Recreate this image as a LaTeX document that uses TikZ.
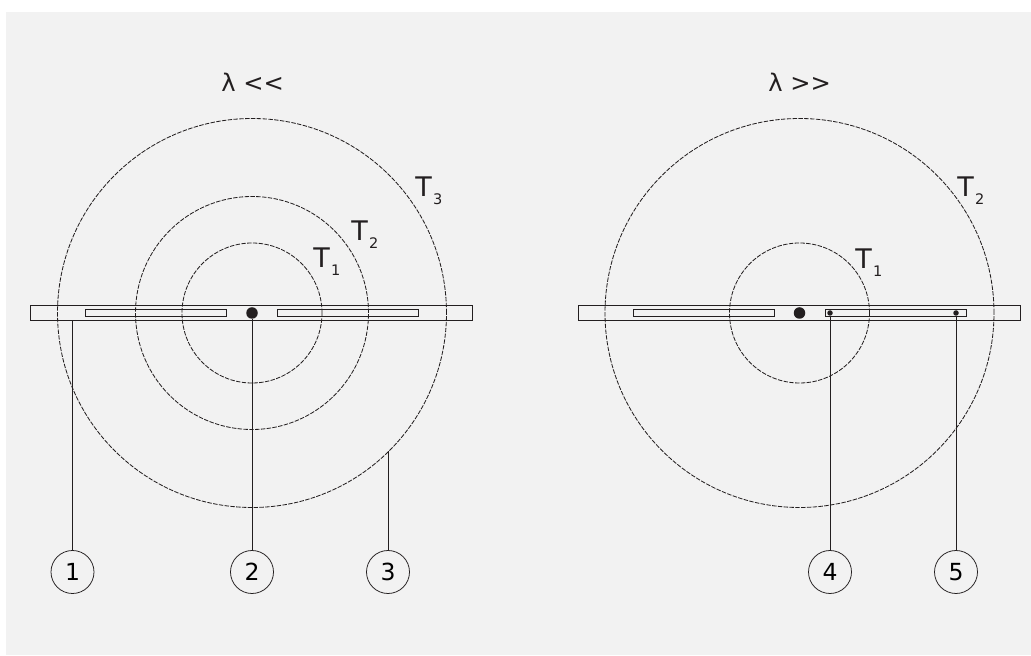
\documentclass[tikz,border=0pt]{standalone}
\usepackage{fontspec}
\setmainfont{DejaVu Sans}
\definecolor{panelgrey}{HTML}{F2F2F2}
\definecolor{inkdark}{HTML}{231F20}
\newcommand{\tsub}[1]{T\kern0.05em\raisebox{-0.28em}{\fontsize{10.5}{10.5}\selectfont #1}}
\tikzset{
  plate/.style={draw=inkdark, line width=0.68pt, inner sep=0pt, minimum width=4.42in, minimum height=0.15in},
  slot/.style={draw=inkdark, line width=0.68pt, inner sep=0pt, minimum width=1.41in, minimum height=0.065in},
  ring/.style={circle, draw=inkdark, line width=0.6pt, dash pattern=on 3.2pt off 1pt, inner sep=0pt},
  source/.style={circle, fill=inkdark, inner sep=0pt, minimum size=0.115in},
  tip/.style={circle, fill=inkdark, inner sep=0pt, minimum size=0.055in},
  callout/.style={circle, draw=inkdark, line width=0.55pt, inner sep=0pt, minimum size=0.43in, font=\fontsize{17}{17}\selectfont},
  lead/.style={draw=inkdark, line width=0.68pt},
  templabel/.style={inner sep=0pt, anchor=base west, font=\fontsize{19.5}{20}\selectfont, text=inkdark},
  title/.style={inner sep=0pt, anchor=base west, font=\fontsize{17.5}{18}\selectfont, text=inkdark}
}
\begin{document}
\begin{tikzpicture}[x=1in,y=1in]
\useasboundingbox (0,0) rectangle (10.31,6.55);
\fill[panelgrey] (0.06,0) rectangle (10.31,6.43);
% left plate
\node[plate] (plateL) at (2.515,3.425) {};
\node[slot] (slotLa) at (1.56,3.42) {};
\node[slot] (slotLb) at (3.48,3.42) {};
\node[source] (sourceL) at (2.52,3.42) {};
\node[ring, minimum size=1.40in] (ringLa) at (2.52,3.42) {};
\node[ring, minimum size=2.33in] (ringLb) at (2.52,3.42) {};
\node[ring, minimum size=3.89in] (ringLc) at (2.52,3.42) {};
% right plate
\node[plate] (plateR) at (7.995,3.425) {};
\node[slot] (slotRa) at (7.04,3.42) {};
\node[slot] (slotRb) at (8.955,3.42) {};
\node[source] (sourceR) at (7.995,3.42) {};
\node[tip] (tipa) at (8.30,3.42) {};
\node[tip] (tipb) at (9.56,3.42) {};
\node[ring, minimum size=1.40in] (ringRa) at (7.995,3.42) {};
\node[ring, minimum size=3.89in] (ringRb) at (7.995,3.42) {};
% numbers
\node[callout] (numa) at (0.725,0.83) {1};
\node[callout] (numb) at (2.52,0.83) {2};
\node[callout] (numc) at (3.88,0.83) {3};
\node[callout] (numd) at (8.30,0.83) {4};
\node[callout] (nume) at (9.56,0.83) {5};
% leaders
\coordinate (ringhit) at (ringLc.-45.6);
\draw[lead] (numa) -- (numa |- plateL.south);
\draw[lead] (numb) -- (sourceL);
\draw[lead] (numc) -- (numc |- ringhit);
\draw[lead] (numd) -- (tipa);
\draw[lead] (nume) -- (tipb);
% labels
\node[title] (titleL) at (2.21,5.63) {λ <\kern0pt<};
\node[title] (titleR) at (7.68,5.63) {λ >\kern0pt>};
\node[templabel] (tempLc) at (4.15,4.58) {\tsub{3}};
\node[templabel] (tempLb) at (3.51,4.14) {\tsub{2}};
\node[templabel] (tempLa) at (3.13,3.87) {\tsub{1}};
\node[templabel] (tempRb) at (9.57,4.58) {\tsub{2}};
\node[templabel] (tempRa) at (8.55,3.86) {\tsub{1}};
\end{tikzpicture}
\end{document}
